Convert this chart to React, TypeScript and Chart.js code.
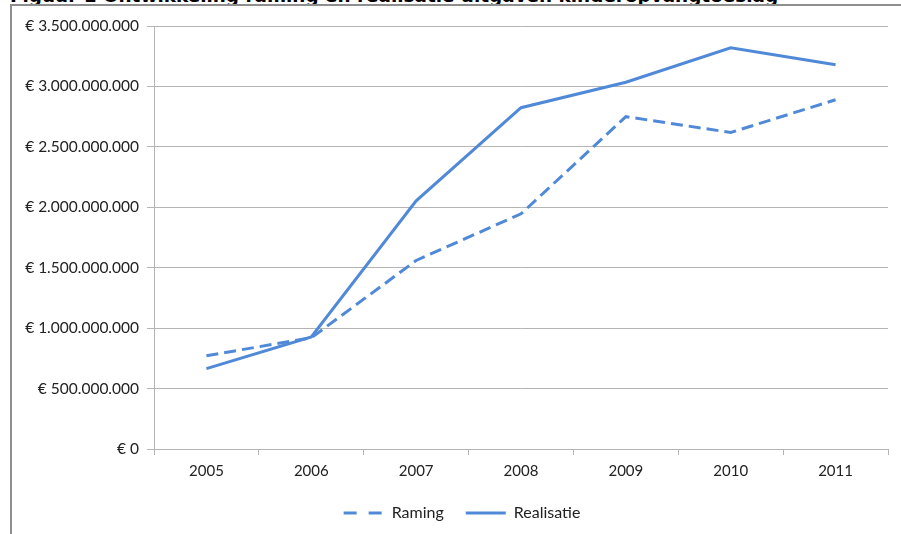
import React, { useEffect, useRef } from "react";
import { Chart, registerables } from "chart.js";

Chart.register(...registerables);

const categories = ["2005", "2006", "2007", "2008", "2009", "2010", "2011"];
const raming = [772e6, 920e6, 1560e6, 1946e6, 2750e6, 2619e6, 2890e6];
const realisatie = [665e6, 928e6, 2053e6, 2824e6, 3035e6, 3320e6, 3180e6];
const yMax = 3.5e9;
const yStep = 5e8;
const title = "Figuur 1 Ontwikkeling raming en realisatie uitgaven kinderopvangtoeslag";

const BLUE = "#5089d8";
const GRID = "#b4b4b4";
const FONT = "Lato";

function fmtEuro(v: number): string {
  if (v === 0) return "€ 0";
  const s = Math.round(v).toString().replace(/\B(?=(\d{3})+(?!\d))/g, ".");
  return "€ " + s;
}

const shiftLegend = {
  id: "shiftLegend",
  afterUpdate(chart: any) {
    const lg = chart.legend;
    if (!lg) return;
    lg.left += 18;
    lg.right += 18;
    if (typeof lg.adjustHitBoxes === "function") lg.adjustHitBoxes();
  },
};

export default function App() {
  const ref = useRef<HTMLCanvasElement | null>(null);
  useEffect(() => {
    document.body.style.margin = "0";
    const ctx = ref.current!.getContext("2d")!;
    const chart = new Chart(ctx, {
      type: "line",
      data: {
        labels: categories,
        datasets: [
          {
            label: "Raming",
            data: raming,
            borderColor: BLUE,
            backgroundColor: BLUE,
            borderWidth: 3,
            borderDash: [12, 6],
            pointRadius: 0,
            tension: 0,
            pointStyle: "line",
          },
          {
            label: "Realisatie",
            data: realisatie,
            borderColor: BLUE,
            backgroundColor: BLUE,
            borderWidth: 3,
            pointRadius: 0,
            tension: 0,
            pointStyle: "line",
          },
        ],
      },
      plugins: [shiftLegend],
      options: {
        animation: false,
        responsive: false,
        maintainAspectRatio: false,
        layout: { padding: { left: 0, right: 13, top: 26, bottom: 3 } },
        plugins: {
          title: { display: false },
          tooltip: { enabled: false },
          legend: {
            position: "bottom",
            labels: {
              usePointStyle: true,
              pointStyleWidth: 40,
              boxHeight: 3,
              color: "#222",
              font: { family: FONT, size: 16 },
              padding: 22,
              generateLabels: (c: any) => {
                const items = Chart.defaults.plugins.legend.labels.generateLabels(c);
                items.forEach((it: any, i: number) => {
                  const ds: any = c.data.datasets[i];
                  it.lineDash = ds.borderDash ? [13, 12] : [];
                  it.lineWidth = 3;
                  it.strokeStyle = BLUE;
                  it.fontColor = "#222";
                });
                return items;
              },
            },
          },
        },
        scales: {
          x: {
            offset: true,
            grid: {
              offset: true,
              drawOnChartArea: false,
              drawTicks: true,
              tickLength: 6,
              color: GRID,
            },
            border: { color: GRID, width: 1 },
            ticks: { color: "#222", font: { family: FONT, size: 15 }, padding: 7 },
            afterFit: (s: any) => {
              s.height = 34;
            },
          },
          y: {
            min: 0,
            max: yMax,
            grid: { color: GRID, tickLength: 7, drawTicks: true },
            border: { color: GRID, width: 1 },
            ticks: {
              stepSize: yStep,
              color: "#222",
              font: { family: FONT, size: 15.5 },
              padding: 8,
              callback: (v: any) => fmtEuro(Number(v)),
            },
            afterFit: (s: any) => {
              s.width = 154;
            },
          },
        },
      },
    });
    return () => chart.destroy();
  }, []);

  return (
    <div style={{ position: "relative", width: 901, height: 534, overflow: "hidden", background: "#fff" }}>
      <div
        style={{
          position: "absolute",
          left: 10,
          top: -13,
          fontFamily: "DejaVu Sans",
          fontWeight: "bold",
          fontSize: 18.4,
          lineHeight: "18px",
          whiteSpace: "nowrap",
          color: "#000",
        }}
      >
        {title}
      </div>
      <div
        style={{
          position: "absolute",
          left: 10,
          top: 4,
          width: 900,
          height: 540,
          borderLeft: "2px solid #8e8e8e",
          borderTop: "2px solid #8e8e8e",
        }}
      />
      <canvas ref={ref} width={901} height={534} style={{ position: "absolute", left: 0, top: 0 }} />
    </div>
  );
}
